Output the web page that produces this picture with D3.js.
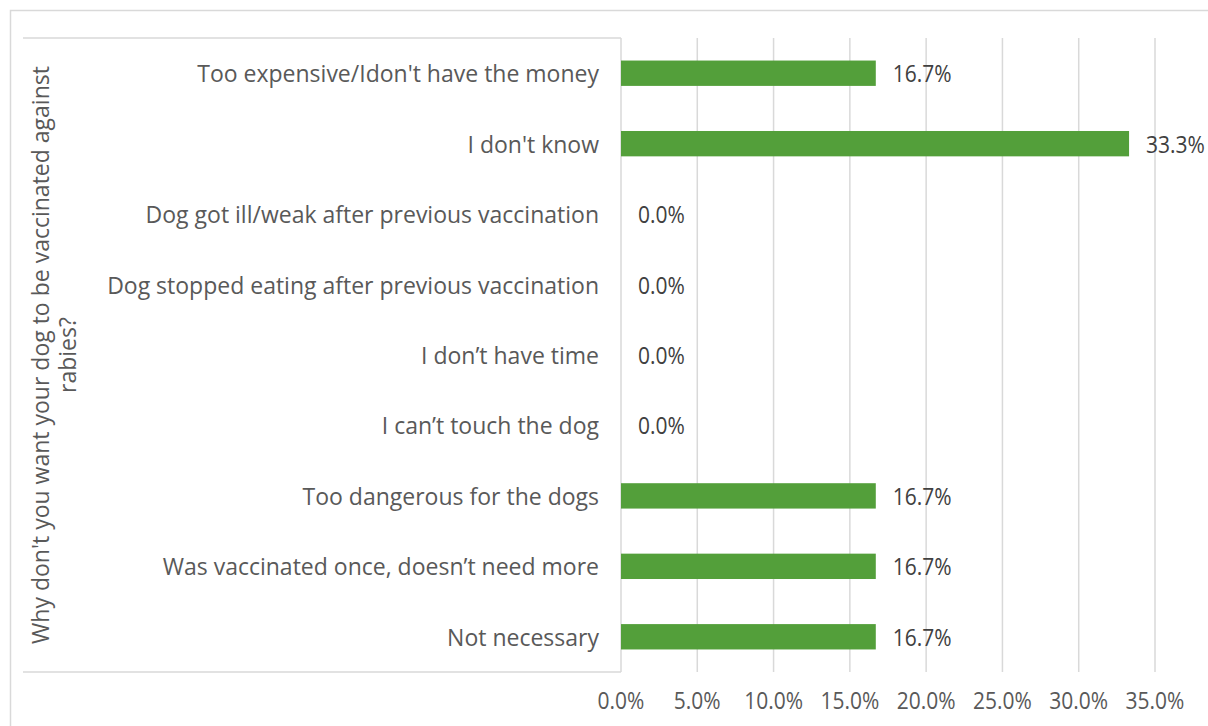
<!DOCTYPE html>
<html>
<head>
<meta charset="utf-8">
<script src="https://cdn.jsdelivr.net/npm/d3@7"></script>
<style>
  html, body { margin: 0; padding: 0; background: #fff; }
  svg { display: block; font-family: "Open Sans", "Noto Sans", sans-serif; }
</style>
</head>
<body>
<svg id="chart" width="1208" height="726"></svg>
<script>
// Survey answers: reasons owners give for not vaccinating their dog against rabies
const categories = [
  "Too expensive/Idon't have the money",
  "I don't know",
  "Dog got ill/weak after previous vaccination",
  "Dog stopped eating after previous vaccination",
  "I don’t have time",
  "I can’t touch the dog",
  "Too dangerous for the dogs",
  "Was vaccinated once, doesn’t need more",
  "Not necessary"
];
const shares = [16.7, 33.3, 0.0, 0.0, 0.0, 0.0, 16.7, 16.7, 16.7];
const tickValues = [0, 5, 10, 15, 20, 25, 30, 35];
const axisTitleLines = ["Why don't you want your dog to be vaccinated against", "rabies?"];

const W = 1208, H = 726;
const plot = { left: 621, right: 1155, top: 38, bottom: 672 };
const grid = "#d9d9d9", labelColor = "#595959", valueColor = "#404040", barColor = "#539f3a";

const svg = d3.select("#chart");

const x = d3.scaleLinear().domain([0, 35]).range([plot.left, plot.right]);
const y = d3.scaleBand().domain(categories).range([plot.top, plot.bottom]).padding(0);
const barH = y.bandwidth() * 0.36;
const fmt = v => d3.format(".1f")(v) + "%";

// helper: text with an optional vertical stretch and rotation
function label(g, px, py, str, opts) {
  const { anchor = "start", color = labelColor, size = 21, sy = 1, rotate = 0 } = opts;
  return g.append("text")
    .attr("transform", `translate(${px},${py})` + (rotate ? ` rotate(${rotate})` : "") + ` scale(1,${sy})`)
    .attr("text-anchor", anchor)
    .attr("dominant-baseline", "central")
    .attr("font-size", size)
    .attr("fill", color)
    .text(str);
}

// outer frame
svg.append("rect")
  .attr("x", 10.5).attr("y", 10.5).attr("width", W).attr("height", H)
  .attr("fill", "none").attr("stroke", grid).attr("stroke-width", 1.5);

// vertical gridlines
svg.append("g").selectAll("line").data(tickValues).join("line")
  .attr("x1", d => x(d)).attr("x2", d => x(d))
  .attr("y1", plot.top).attr("y2", plot.bottom)
  .attr("stroke", grid).attr("stroke-width", 1.5);

// category table borders
svg.append("g").selectAll("line").data([plot.top, plot.bottom]).join("line")
  .attr("x1", 23).attr("x2", plot.left)
  .attr("y1", d => d).attr("y2", d => d)
  .attr("stroke", grid).attr("stroke-width", 1.5);

// bars
svg.append("g").selectAll("rect").data(categories).join("rect")
  .attr("x", x(0))
  .attr("y", d => y(d) + (y.bandwidth() - barH) / 2)
  .attr("width", (d, i) => x(shares[i]) - x(0))
  .attr("height", barH)
  .attr("fill", barColor);

// category labels
const catG = svg.append("g");
categories.forEach(c => label(catG, plot.left - 22, y(c) + y.bandwidth() / 2, c,
  { anchor: "end", size: 23 }));

// value labels
const valG = svg.append("g");
categories.forEach((c, i) => label(valG, x(shares[i]) + 17, y(c) + y.bandwidth() / 2, fmt(shares[i]),
  { color: valueColor, size: 21, sy: 1.12 }));

// x tick labels
const tickG = svg.append("g");
tickValues.forEach(v => label(tickG, x(v), 700, fmt(v), { anchor: "middle", size: 21, sy: 1.12 }));

// rotated axis title
const titleG = svg.append("g");
const midY = (plot.top + plot.bottom) / 2;
label(titleG, 40, midY, axisTitleLines[0], { anchor: "middle", size: 23, rotate: -90 });
label(titleG, 67, midY, axisTitleLines[1], { anchor: "middle", size: 23, rotate: -90 });
</script>
</body>
</html>
